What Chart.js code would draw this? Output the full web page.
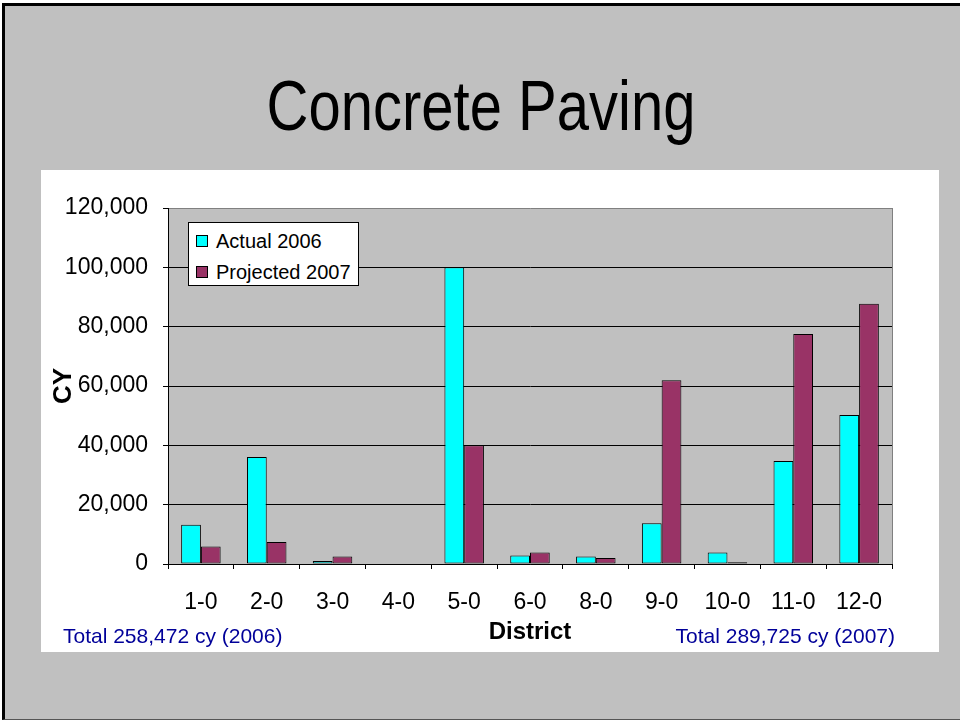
<!DOCTYPE html>
<html>
<head>
<meta charset="utf-8">
<script src="https://cdn.jsdelivr.net/npm/chart.js@4"></script>
<style>
  html,body{margin:0;padding:0;background:#fff;}
  body{width:960px;height:721px;position:relative;overflow:hidden;font-family:"Liberation Sans",Arial,sans-serif;}
  .slide{position:absolute;left:2px;top:3px;width:970px;height:717px;background:#c0c0c0;border-left:3px solid #000;border-top:3px solid #000;border-bottom:1px solid #555;box-sizing:border-box;}
  .title{position:absolute;left:0;width:962px;top:70px;text-align:center;font-size:58px;line-height:60px;color:#000;transform:scaleY(1.2);transform-origin:50% 0;}
  .panel{position:absolute;left:41px;top:170px;width:898px;height:482px;background:#fff;}
  .total{position:absolute;top:623px;font-size:21px;line-height:26px;color:#000099;}
  .legend{position:absolute;left:188px;top:222px;width:171px;height:64px;box-sizing:border-box;border:1px solid #000;background:#fff;}
  .legend div{position:absolute;left:27px;font-size:20px;line-height:24px;white-space:nowrap;}
  .legend span{position:absolute;left:-20px;top:6px;width:12px;height:12px;box-sizing:border-box;border:1px solid #000;}
</style>
</head>
<body>
<div class="slide"></div>
<div class="title">Concrete Paving</div>
<div class="panel"><canvas id="c"></canvas></div>
<div class="legend" id="legend"></div>
<div class="total" style="left:63px">Total 258,472 cy (2006)</div>
<div class="total" style="right:65px">Total 289,725 cy (2007)</div>
<script>
// ====== Dados ======
const districts = ['1-0','2-0','3-0','4-0','5-0','6-0','8-0','9-0','10-0','11-0','12-0'];
const actual2006 = [13200, 36100, 1000, 0, 100000, 2900, 2500, 13700, 3900, 34700, 50200];
const projected2007 = [5900, 7400, 2500, 0, 40000, 3900, 2000, 61900, 600, 77500, 87700];
const seriesNames = ['Actual 2006','Projected 2007'];
const seriesColors = ['#00ffff','#993366'];
const yTicks = [0, 20000, 40000, 60000, 80000, 100000, 120000];

// fundo cinza da área do gráfico + borda cinza à direita
const plotBg = {
  id:'plotBg',
  beforeDraw(chart){
    const {ctx, chartArea:a} = chart;
    ctx.save(); ctx.fillStyle='#c0c0c0'; ctx.fillRect(a.left,a.top,a.right-a.left,a.bottom-a.top); ctx.restore();
  },
  beforeDatasetsDraw(chart){
    const {ctx, chartArea:a} = chart;
    ctx.save(); ctx.strokeStyle='#808080'; ctx.lineWidth=1;
    ctx.beginPath(); ctx.moveTo(a.right+0.5,a.top); ctx.lineTo(a.right+0.5,a.bottom); ctx.stroke(); ctx.restore();
  }
};

const font = {family:'"Liberation Sans", Arial, sans-serif'};

new Chart(document.getElementById('c'), {
  type:'bar',
  data:{
    labels: districts,
    datasets:[
      {label:seriesNames[0], data:actual2006, backgroundColor:seriesColors[0], borderColor:'#000', borderWidth:1, borderSkipped:false},
      {label:seriesNames[1], data:projected2007, backgroundColor:seriesColors[1], borderColor:'#000', borderWidth:1, borderSkipped:false}
    ]
  },
  options:{
    responsive:true, maintainAspectRatio:false, animation:false,
    layout:{padding:{left:4, top:38, right:47, bottom:5}},
    datasets:{bar:{categoryPercentage:0.6, barPercentage:1}},
    plugins:{legend:{display:false}, tooltip:{enabled:false}},
    scales:{
      x:{
        grid:{offset:true, drawOnChartArea:false, drawTicks:true, tickLength:5, color:'#000'},
        border:{color:'#000'},
        ticks:{color:'#000', font:{...font, size:23}, padding:20, maxRotation:0, autoSkip:false},
        title:{display:true, text:'District', color:'#000', font:{...font, size:24, weight:'bold'}, padding:0},
        afterFit(s){ s.height = 83; }
      },
      y:{
        min:0, max:120000,
        afterBuildTicks(s){ s.ticks = yTicks.map(v=>({value:v})); },
        grid:{color:c=> c.tick && c.tick.value===120000 ? '#808080' : '#000', tickColor:'#000', tickLength:5},
        border:{color:'#000'},
        ticks:{color:'#000', font:{...font, size:23}, padding:15, callback:v=>v.toLocaleString('en-US')},
        title:{display:true, text:'CY', color:'#000', font:{...font, size:26, weight:'bold'}, padding:{top:3, bottom:0}},
        afterFit(s){ s.width = 123; }
      }
    }
  },
  plugins:[plotBg]
});

// legenda em HTML
document.getElementById('legend').innerHTML = seriesNames.map((n,i)=>
  `<div style="top:${6+i*31}px"><span style="background:${seriesColors[i]}"></span>${n}</div>`).join('');
</script>
</body>
</html>
